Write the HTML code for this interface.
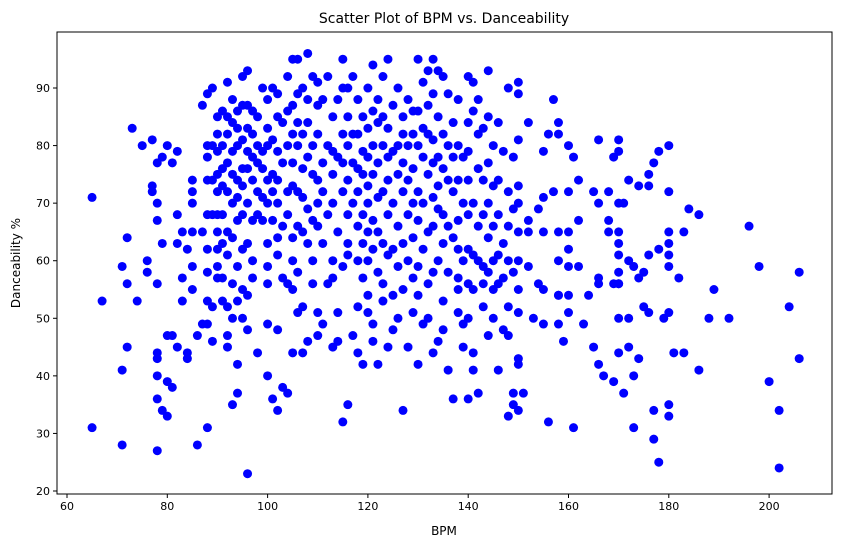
<!DOCTYPE html>
<html><head><meta charset="utf-8"><style>
html,body{margin:0;padding:0;background:#fff;}
svg{display:block;font-family:"DejaVu Sans","Liberation Sans",sans-serif;}
</style></head><body>
<svg id="chart" width="841" height="547" viewBox="0 0 841 547">
<text x="444" y="23" text-anchor="middle" font-size="14">Scatter Plot of BPM vs. Danceability</text>
<text x="444" y="535" text-anchor="middle" font-size="12">BPM</text>
<text transform="translate(20,263) rotate(-90)" text-anchor="middle" font-size="12">Danceability %</text>
<g id="points"></g>
<g id="axes"></g>
</svg>
<script>
const xTicks=[60,80,100,120,140,160,180,200];
const yTicks=[20,30,40,50,60,70,80,90];
const bpm=[65,65,67,71,71,71,72,72,72,73,74,75,76,76,77,77,77,78,78,78,78,78,78,78,78,78,79,79,79,80,80,80,80,81,81,81,82,82,82,82,83,83,83,84,84,84,
85,85,85,85,85,85,86,86,87,87,87,88,88,88,88,88,88,88,88,88,88,89,89,89,89,89,89,90,90,90,90,90,90,90,90,90,90,
91,91,91,91,91,91,91,91,92,92,92,92,92,92,92,92,92,92,93,93,93,93,93,93,93,93,93,94,94,94,94,94,94,94,94,94,94,95,95,95,95,95,95,95,95,95,
96,96,96,96,96,96,96,96,96,96,97,97,97,97,97,97,97,98,98,98,98,98,98,99,99,99,99,99,100,100,100,100,100,100,100,100,100,100,
101,101,101,101,101,101,102,102,102,102,102,102,102,102,102,103,103,103,103,103,104,104,104,104,104,104,104,105,105,105,105,105,105,105,105,105,
106,106,106,106,106,106,106,106,107,107,107,107,107,107,107,108,108,108,108,108,108,108,109,109,109,109,109,109,110,110,110,110,110,110,110,110,
111,111,111,111,111,112,112,112,112,113,113,113,113,113,113,113,114,114,114,114,114,115,115,115,115,115,115,115,
116,116,116,116,116,116,116,116,117,117,117,117,117,118,118,118,118,118,118,118,118,119,119,119,119,119,119,119,120,120,120,120,120,120,120,120,120,
121,121,121,121,121,121,121,121,122,122,122,122,122,122,122,123,123,123,123,123,123,123,124,124,124,124,124,124,124,125,125,125,125,125,125,
126,126,126,126,126,126,127,127,127,127,127,127,127,128,128,128,128,128,128,129,129,129,129,129,129,129,130,130,130,130,130,130,130,130,
131,131,131,131,131,131,132,132,132,132,132,132,132,133,133,133,133,133,133,133,133,134,134,134,134,134,134,134,135,135,135,135,135,135,135,
136,136,136,136,136,136,137,137,137,137,137,138,138,138,138,138,138,138,138,139,139,139,139,139,140,140,140,140,140,140,140,140,140,
141,141,141,141,141,141,141,142,142,142,142,142,142,143,143,143,143,143,143,144,144,144,144,144,144,144,145,145,145,145,145,145,
146,146,146,146,146,146,147,147,147,147,148,148,148,148,148,148,148,149,149,149,149,149,150,150,150,150,150,150,150,150,150,150,150,150,
151,152,152,152,152,153,154,154,155,155,155,155,155,156,156,157,157,158,158,158,158,158,158,158,159,160,160,160,160,160,160,160,
161,161,162,162,162,163,164,165,165,166,166,166,166,166,167,168,168,168,169,169,169,170,170,170,170,170,170,170,170,170,170,170,171,171,172,172,172,172,173,173,173,174,174,174,175,175,
176,176,176,176,177,177,177,178,178,178,179,180,180,180,180,180,180,180,180,180,181,182,183,183,184,186,186,188,189,192,196,198,200,202,202,204,206,206];
const dance=[71,31,53,59,41,28,64,56,45,83,53,80,60,58,81,73,72,70,77,67,56,44,43,40,36,27,78,63,34,80,47,33,39,77,47,38,79,68,63,45,65,57,53,62,43,44,
74,72,70,65,59,55,28,47,87,65,49,89,80,78,74,68,62,58,53,49,31,90,80,74,68,52,46,85,82,79,75,72,68,65,62,59,57,
86,80,76,73,68,63,57,53,91,85,82,77,72,65,61,52,47,45,88,84,79,75,70,64,56,50,35,86,83,80,74,71,67,59,53,42,37,92,87,81,76,73,68,62,55,50,
93,87,83,79,76,70,63,54,48,23,86,82,78,74,67,60,57,85,80,77,72,68,44,90,79,76,71,67,40,88,83,80,74,70,63,59,56,49,36,
90,81,75,72,67,34,89,85,79,74,70,64,61,48,38,84,77,66,57,37,92,86,80,72,68,56,44,95,87,82,77,73,64,60,55,51,
95,89,84,80,72,66,58,44,90,82,76,71,65,52,46,96,88,84,78,69,63,56,92,80,75,67,60,47,91,87,82,74,70,66,51,49,
88,77,72,63,56,92,80,68,45,85,79,75,70,60,57,46,88,78,65,51,32,95,90,82,77,72,59,35,
90,85,80,74,68,63,61,47,92,82,77,70,52,88,82,76,72,66,60,44,42,85,79,75,68,63,57,51,90,83,78,73,70,65,60,54,49,
94,86,80,75,67,62,46,42,88,84,77,71,65,58,53,92,85,80,72,63,56,45,95,83,78,74,68,61,48,87,79,70,62,54,50,
90,80,75,66,59,34,85,82,77,72,63,55,45,88,80,74,68,60,51,86,82,76,70,64,57,42,95,86,80,72,67,59,54,49,
91,83,78,70,62,56,93,87,82,75,65,50,44,95,89,81,77,71,66,58,46,93,85,78,73,69,60,53,92,82,76,68,63,48,41,
89,80,74,66,58,36,84,78,72,64,55,88,80,74,67,62,57,51,45,78,70,60,49,36,92,84,79,74,68,62,56,50,44,
91,86,70,61,55,41,37,88,82,76,66,60,52,83,74,68,59,56,47,93,85,77,70,64,58,50,80,73,66,60,55,41,
84,74,68,61,56,48,79,63,57,33,90,72,66,60,52,47,35,78,69,58,37,34,91,89,81,73,70,65,60,55,51,43,42,37,
67,84,65,59,50,69,56,55,79,71,65,49,82,32,72,88,54,84,82,65,60,54,49,46,65,80,72,62,59,54,51,31,
78,59,74,67,49,54,45,72,70,81,57,56,42,40,65,72,67,56,78,39,56,81,79,70,65,63,61,58,56,50,44,37,70,50,74,60,45,31,59,40,43,73,57,52,58,51,
75,73,61,29,77,34,25,79,62,50,61,80,72,65,63,59,51,35,33,44,57,65,44,69,68,41,50,55,50,66,59,39,34,24,52,58,43];

const L=57,R=832,T=32,B=494;
function xs(v){return 67+(v-60)*5.015;}
function ys(v){return 491-(v-20)*5.757;}
const ns="http://www.w3.org/2000/svg";
const pg=document.getElementById('points');
for(let i=0;i<bpm.length;i++){
  const c=document.createElementNS(ns,'circle');
  c.setAttribute('cx',xs(bpm[i]));c.setAttribute('cy',ys(dance[i]));
  c.setAttribute('r',4.5);c.setAttribute('fill','#0000ff');
  
  
  pg.appendChild(c);
}
const ax=document.getElementById('axes');
const fr=document.createElementNS(ns,'rect');
fr.setAttribute('x',L);fr.setAttribute('y',T);fr.setAttribute('width',R-L);fr.setAttribute('height',B-T);
fr.setAttribute('fill','none');fr.setAttribute('stroke','#000');fr.setAttribute('stroke-width','1');


ax.appendChild(fr);
xTicks.forEach(t=>{
  const x=xs(t);
  const l=document.createElementNS(ns,'line');
  l.setAttribute('x1',x);l.setAttribute('x2',x);l.setAttribute('y1',B);l.setAttribute('y2',B+4);l.setAttribute('stroke','#000');
  
  
  ax.appendChild(l);
  const tx=document.createElementNS(ns,'text');
  tx.setAttribute('x',x);tx.setAttribute('y',B+16);tx.setAttribute('text-anchor','middle');tx.setAttribute('font-size','11');
  tx.textContent=t;
  
  
  ax.appendChild(tx);
});
yTicks.forEach(t=>{
  const y=ys(t);
  const l=document.createElementNS(ns,'line');
  l.setAttribute('x1',L-4);l.setAttribute('x2',L);l.setAttribute('y1',y);l.setAttribute('y2',y);l.setAttribute('stroke','#000');
  
  
  ax.appendChild(l);
  const tx=document.createElementNS(ns,'text');
  tx.setAttribute('x',L-7);tx.setAttribute('y',y+4);tx.setAttribute('text-anchor','end');tx.setAttribute('font-size','11');
  tx.textContent=t;
  
  
  ax.appendChild(tx);
});
</script>
</body></html>
